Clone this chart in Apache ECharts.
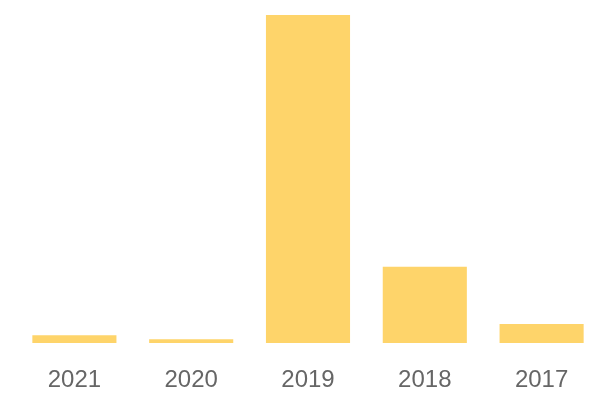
<!DOCTYPE html>
<html><head><meta charset="utf-8">
<script src="https://cdn.jsdelivr.net/npm/echarts@6/dist/echarts.min.js"></script>
<style>html,body{margin:0;padding:0;background:#fff}#c{width:600px;height:400px}</style>
</head><body><div id="c"></div>
<script>
var categories = ['2021', '2020', '2019', '2018', '2017'];
var values = [2, 1, 86, 20, 5];
var chart = echarts.init(document.getElementById('c'), null, {renderer: 'canvas'});
chart.setOption({
  animation: false,
  grid: {left: 16, right: 0, top: 15, bottom: 57, containLabel: false},
  xAxis: {
    type: 'category', data: categories,
    axisLine: {show: false}, axisTick: {show: false},
    axisLabel: {color: '#666', fontSize: 24, fontFamily: 'Liberation Sans, Arial, sans-serif', margin: 25}
  },
  yAxis: {type: 'value', min: 0, max: 86, show: false, splitLine: {show: false}},
  series: [{type: 'bar', data: values, barCategoryGap: '28%', itemStyle: {color: '#FED46A'}}]
});
</script></body></html>
